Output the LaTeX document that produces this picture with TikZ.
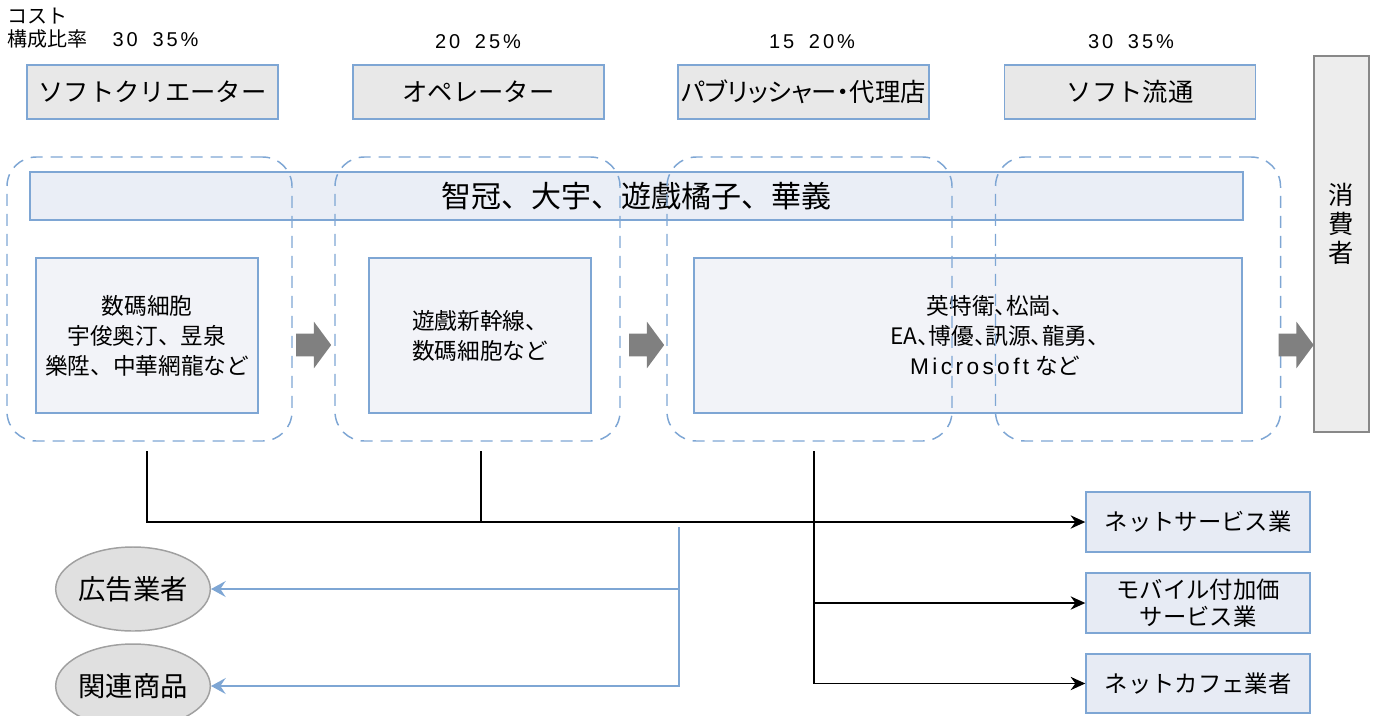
\documentclass[tikz,border=0pt]{standalone}
\usepackage{fontspec}
\setmainfont{Noto Sans CJK JP}
\newfontfamily\propfont[RawFeature=+palt]{Noto Sans CJK JP}
\newfontfamily\numfont[LetterSpace=15]{Liberation Sans}
\newfontfamily\latinfont[LetterSpace=15]{Liberation Sans}
\usetikzlibrary{arrows.meta,shapes.arrows,shapes.geometric}

\definecolor{boxline}{RGB}{126,166,212}
\definecolor{stagefill}{RGB}{232,232,232}
\definecolor{barfill}{RGB}{234,238,246}
\definecolor{firmfill}{RGB}{242,243,248}
\definecolor{sidefill}{RGB}{231,235,244}
\definecolor{ovalfill}{RGB}{224,224,224}
\definecolor{ovalline}{RGB}{160,160,160}
\definecolor{userfill}{RGB}{237,237,237}
\definecolor{userline}{RGB}{136,136,136}
\definecolor{flowgray}{RGB}{128,128,128}

\begin{document}
\begin{tikzpicture}[x=0.75pt,y=-0.75pt,>={Stealth[length=11pt,width=10pt]}]

	\tikzstyle{stage}=[rectangle,draw=boxline,fill=stagefill,line width=1.1pt,minimum width=188.25pt,minimum height=40.5pt,inner sep=0pt,font=\fontsize{19}{23}\selectfont]
	\tikzstyle{share}=[inner sep=0pt,font=\numfont\fontsize{15}{17}\selectfont]
	\tikzstyle{firm}=[rectangle,draw=boxline,fill=firmfill,line width=1.1pt,minimum height=116.25pt,inner sep=0pt,align=center,font=\fontsize{17}{22.5}\selectfont]
	\tikzstyle{group}=[rectangle,draw=boxline,dash pattern=on 9pt off 6pt,rounded corners=22pt,line width=1.1pt,minimum width=213.75pt,minimum height=213pt]
	\tikzstyle{flow}=[single arrow,fill=flowgray,minimum height=26.25pt,inner xsep=0pt,inner ysep=8.25pt,single arrow head extend=9pt,single arrow tip angle=107]
	\tikzstyle{side}=[rectangle,draw=boxline,fill=sidefill,line width=1.1pt,minimum width=168pt,minimum height=45pt,inner sep=0pt,align=center,font=\fontsize{17.5}{20}\selectfont]
	\tikzstyle{oval}=[ellipse,draw=ovalline,fill=ovalfill,line width=1.1pt,minimum width=113.25pt,minimum height=63pt,inner sep=0pt,font=\fontsize{20.5}{24}\selectfont]
	\tikzstyle{link}=[line width=1.1pt,black]
	\tikzstyle{feed}=[line width=1pt,boxline,-{Stealth[length=11pt,width=12pt,inset=4pt]}]

	\useasboundingbox (0,0) rectangle (1377,715);

	% cost share
	\node [inner sep=0pt,anchor=north west,align=left,font=\fontsize{15}{17.25}\selectfont] (ratio) at (7,8) {コスト\\構成比率\hspace{19pt}{\numfont\fontsize{15}{17}\selectfont 30\hspace{11pt}35\%}};
	\node [share] (share2) at (478,42) {20\hspace{11pt}25\%};
	\node [share] (share3) at (812,42) {15\hspace{11pt}20\%};
	\node [share] (share4) at (1131,42) {30\hspace{11pt}35\%};

	% stages
	\node [stage] (creator) at (152.5,92) {ソフトクリエーター};
	\node [stage] (operator) at (478.5,92) {オペレーター};
	\node [stage,font=\propfont\fontsize{19}{23}\selectfont] (publisher) at (803.5,92) {パブリッシャー・代理店};
	\node [stage] (retail) at (1130,92) {ソフト流通};

	\node [rectangle,draw=boxline,fill=barfill,line width=1.1pt,minimum width=909.75pt,minimum height=36pt,font=\fontsize{22.5}{26}\selectfont] (bar) at (636.5,196) {智冠、大宇、遊戲橘子、華義};

	\node [firm,minimum width=166.5pt] (makers) at (147,335.5) {数碼細胞\\宇俊奥汀、昱泉\\樂陞、中華網龍など};
	\node [firm,minimum width=166.5pt] (ops) at (480,335.5) {遊戲新幹線、\\数碼細胞など};
	\node [firm,minimum width=411pt,label={[align=center,xshift=20pt,font=\propfont\fontsize{17}{22.5}\selectfont]center:英特衛、松崗、\\EA、博優、訊源、龍勇、\\{\latinfont Microsoft}\hspace{5pt}など}] (pubs) at (968,335.5) {};

	\node [group] (ring1) at (149.5,299) {};
	\node [group] (ring2) at (477.5,299) {};
	\node [group] (ring3) at (809.5,299) {};
	\node [group] (ring4) at (1138,299) {};

	\node [rectangle,draw=userline,fill=userfill,line width=1.1pt,minimum width=41.25pt,minimum height=282pt,label={[align=center,yshift=15pt,font=\fontsize{19}{21.75}\selectfont]center:消\\費\\者}] (user) at (1341.5,244) {};

	\node [flow] (flow1) at (309.5,345) {};
	\node [flow] (flow2) at (642.5,345) {};
	\node [flow] (flow3) at (1292,345) {};

	% other businesses
	\node [side] (netsv) at (1198,522) {ネットサービス業};
	\node [side] (mobile) at (1198,603) {モバイル付加価\\サービス業};
	\node [side,minimum height=44.25pt] (cafe) at (1198,683.5) {ネットカフェ業者};

	\node [oval] (ads) at (133,589) {広告業者};
	\node [oval] (goods) at (133,686) {関連商品};

	\coordinate (a1) at (147,451);
	\coordinate (b1) at (481,451);
	\coordinate (c1) at (814,451);
	\coordinate (s1) at (679,527);

	\draw [link,->] (a1) |- (netsv.west);
	\draw [link] (b1) -- (b1 |- netsv.west);
	\draw [link,->] (c1) |- (cafe.west);
	\draw [link,->] (c1 |- mobile.west) -- (mobile.west);

	\draw [feed] (s1) |- (goods.east);
	\draw [feed] (s1 |- ads.east) -- (ads.east);

\end{tikzpicture}
\end{document}
